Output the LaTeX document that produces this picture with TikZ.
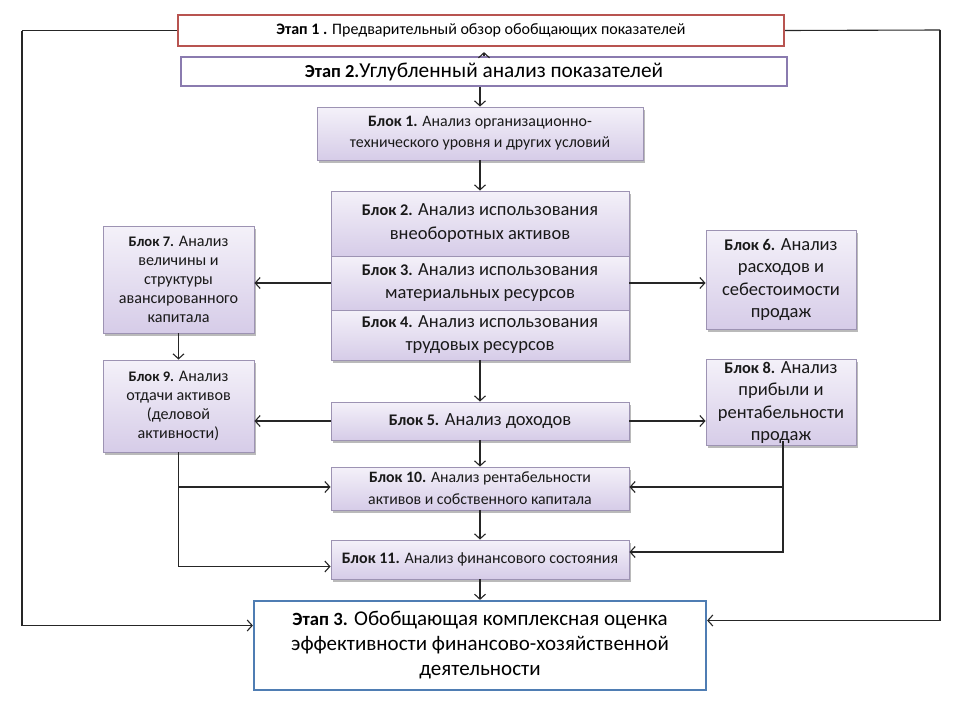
\documentclass[tikz,border=0pt]{standalone}
\usepackage{fontspec}
\setmainfont{Carlito}
\usetikzlibrary{arrows.meta,shadows}
\definecolor{etapred}{HTML}{B85450}
\definecolor{etappurple}{HTML}{8A7BAF}
\definecolor{etapblue}{HTML}{4F7DB3}
\definecolor{boxtop}{HTML}{F4F1F9}
\definecolor{boxbot}{HTML}{D6CCE8}
\definecolor{boxline}{HTML}{9D93B3}
\tikzset{
  blk/.style={draw=boxline, line width=0.9pt, top color=boxtop, bottom color=boxbot,
    align=center, inner sep=2pt, text=black!90,
    drop shadow={shadow xshift=1.5pt, shadow yshift=-2.5pt, fill=black!45, opacity=0.6}},
  arr/.style={line width=1.1pt, black!85, -{Straight Barb[length=5pt,width=11pt]}},
  ln/.style={line width=1.1pt, black!85},
}
\begin{document}
\begin{tikzpicture}[x=1pt,y=-1pt]
\fill[white] (0,0) rectangle (960,720);
\useasboundingbox (0,0) rectangle (960,720);
% Stage nodes
\node[draw=etapred, line width=2.2pt, fill=white, minimum width=606pt, minimum height=31pt, font=\fontsize{16}{18}\selectfont] (e1) at (481,30.5) {\textbf{Этап 1 .} Предварительный обзор обобщающих показателей};
\node[draw=etappurple, line width=2.2pt, fill=white, minimum width=606pt, minimum height=29pt, font=\fontsize{21.3}{23}\selectfont] (e2) at (484,71.5) {\textbf{\fontsize{18.4}{20}\selectfont Этап 2.}Углубленный анализ показателей};
% Blocks
\node[blk, minimum width=326pt, minimum height=53pt, font=\fontsize{15.9}{21}\selectfont] (b1) at (480,133.5) {\textbf{Блок 1.} Анализ организационно-\\технического уровня и других условий};
\node[blk, minimum width=298pt, minimum height=65pt, font=\fontsize{18.5}{24}\selectfont] (b2) at (480,223.5) {\textbf{\fontsize{16.3}{24}\selectfont Блок 2.} Анализ использования\\внеоборотных активов};
\node[blk, minimum width=298pt, minimum height=54pt, font=\fontsize{18.5}{23}\selectfont] (b3) at (480,283) {\textbf{\fontsize{16.3}{23}\selectfont Блок 3.} Анализ использования\\материальных ресурсов};
\node[blk, minimum width=298pt, minimum height=50pt, font=\fontsize{18.5}{23}\selectfont] (b4) at (480,335) {\textbf{\fontsize{16.3}{23}\selectfont Блок 4.} Анализ использования\\трудовых ресурсов};
\node[blk, minimum width=151pt, minimum height=107pt, font=\fontsize{16.1}{19}\selectfont] (b7) at (178.5,279.5) {\textbf{\fontsize{14.6}{19}\selectfont Блок 7.} Анализ\\величины и\\структуры\\авансированного\\капитала};
\node[blk, minimum width=150pt, minimum height=99pt, font=\fontsize{18.5}{22.5}\selectfont] (b6) at (781,279.5) {\textbf{\fontsize{16.3}{22.5}\selectfont Блок 6.} Анализ\\расходов и\\себестоимости\\продаж};
\node[blk, minimum width=151pt, minimum height=92pt, font=\fontsize{16.1}{19}\selectfont] (b9) at (178.5,406) {\textbf{\fontsize{14.6}{19}\selectfont Блок 9.} Анализ\\отдачи активов\\(деловой\\активности)};
\node[blk, minimum width=150pt, minimum height=85pt, font=\fontsize{18.5}{22.5}\selectfont] (b8) at (781,402.5) {\textbf{\fontsize{16.3}{22.5}\selectfont Блок 8.} Анализ\\прибыли и\\рентабельности\\продаж};
\node[blk, minimum width=298pt, minimum height=38pt, font=\fontsize{18.5}{20}\selectfont] (b5) at (480,421) {\textbf{\fontsize{16.2}{20}\selectfont Блок 5.} Анализ доходов};
\node[blk, minimum width=298pt, minimum height=43pt, font=\fontsize{15.8}{22}\selectfont] (b10) at (480,488.5) {\textbf{Блок 10.} Анализ рентабельности\\активов и собственного капитала};
\node[blk, minimum width=298pt, minimum height=39pt, font=\fontsize{16}{18}\selectfont] (b11) at (480,559.5) {\textbf{Блок 11.} Анализ финансового состояния};
\node[draw=etapblue, line width=2.2pt, fill=white, minimum width=452pt, minimum height=89pt, align=center, font=\fontsize{21}{25}\selectfont] (e3) at (480,645.5) {\textbf{\fontsize{18.7}{25}\selectfont Этап 3.} Обобщающая комплексная оценка\\эффективности финансово-хозяйственной\\деятельности};
% Connectors
\draw[arr] (e2.north) -- ([yshift=-5pt]e2.north |- e1.south);
\draw[arr] (e2.south -| b1.north) -- (b1.north);
\draw[arr] (b1.south) -- (b2.north);
\draw[arr] (b3.west) -- (b3.west -| b7.east);
\draw[arr] (b3.east) -- (b3.east -| b6.west);
\draw[arr] (b7.south) -- (b9.north);
\draw[arr] (b4.south) -- (b5.north);
\draw[arr] (b5.west) -- (b5.west -| b9.east);
\draw[arr] (b5.east) -- (b5.east -| b8.west);
\draw[arr] (b5.south) -- (b10.north);
\draw[arr] (b10.south) -- (b11.north);
\draw[arr] (b11.south) -- (e3.north);
% left feeders
\coordinate (lb) at ([yshift=-7pt]b11.west);
\draw[arr] (b9.south) |- (lb);
\coordinate (lj) at ([yshift=1.5pt]b9.south |- b10.west);
\draw[arr] (lj) -- (lj -| b10.west);
% right feeders
\coordinate (r8) at ([xshift=2pt,yshift=5pt]b8.south);
\coordinate (rb) at ([yshift=7.5pt]b11.east);
\draw[arr] (r8) |- (rb);
\coordinate (rj) at ([yshift=1.5pt]r8 |- b10.east);
\draw[arr] (rj) -- (rj -| b10.east);
% outer loops
\coordinate (L) at (22,30.5);
\coordinate (R) at (940,30);
\draw[ln] (e1.west) -- (L);
\draw[arr] (L) |- ([yshift=20pt]e3.west);
\draw[ln] (e1.east) -- (R);
\draw[arr] (R) |- ([yshift=25pt]e3.east);
\end{tikzpicture}
\end{document}
